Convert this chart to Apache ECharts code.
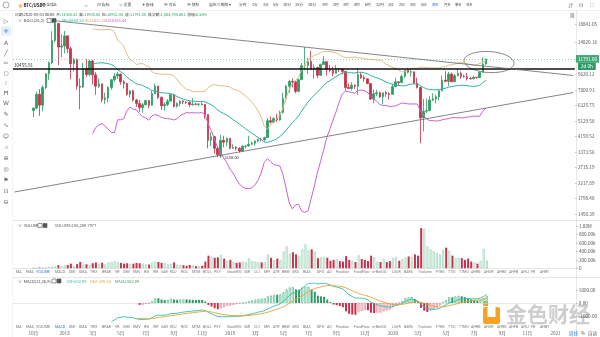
<!DOCTYPE html>
<html>
<head>
<meta charset="utf-8">
<script src="https://cdn.jsdelivr.net/npm/echarts@6/dist/echarts.min.js"></script>
<style>
html,body{margin:0;padding:0;background:#fff;}
#c{width:600px;height:337px;}
</style>
</head>
<body>
<div id="c"></div>
<script>
// ---- weekly BTC/USDT candles, first bar 2017-10-23 ----
const weekStart = '2017-09-11';
const weekTotal = 180;
const dataStart = '2017-10-23';

const opens = [5900,6100,7350,6350,8050,9700,11250,15200,19100,13900,
  14100,16150,13600,11100,11750,8200,8100,10400,9600,11500,9550,8200,8450,6850,7000,8050,8950,9400,9650,8700,
  8500,7350,7700,6800,6500,6150,6380,6750,6350,7400,8200,7050,6300,6400,6700,7300,6250,6500,6700,6620,
  6580,6400,6450,6420,6450,6400,5600,3950,4150,3550,3250,3950,3850,
  4050,3550,3600,3550,3420,3650,3660,3750,3800,3920,4000,3980,4100,5150,5050,5300,5200,5750,6950,8200,
  8750,8700,7650,8950,10800,10850,11450,10250,10550,9500,11000,11400,10300,10150,9750,10400,10350,10000,8050,7950,
  8300,8200,9550,9200,9050,8500,6900,7400,7500,7100,7500,7400,
  7350,8150,8700,8600,9350,10150,9900,9950,8550,8050,5350,5850,5900,6800,6900,7100,7700,8900,8750,9650,
  8700,9450,9750,9350,9300,9100,9050,9250,9200,9900,11065.42];
const highs = [6150,7600,7880,8300,9750,11450,17200,19800,19200,16500,
  17250,16300,14000,12000,11900,9100,11200,11800,11700,11700,9900,9100,8500,7500,8200,9000,9800,9950,9700,8900,
  8550,7750,7800,6900,6850,6550,6750,6800,7700,8500,8250,7150,6600,6900,7400,7400,6600,6800,6800,6700,
  6700,7000,6550,6500,6600,6450,5600,4400,4200,3650,4250,4200,4100,
  4100,3750,3650,3600,3700,3700,4200,3900,3950,4050,4100,4150,5350,5450,5400,5650,5900,7500,8350,8950,
  9100,8800,9100,11200,13880,12000,13200,11000,10650,11100,12300,11450,10900,10650,10900,10450,10400,10050,8500,8650,
  8400,10500,9900,9500,9100,8550,7850,7800,7600,7500,7700,7550,
  8450,9200,8750,9600,10200,10500,10250,9950,9200,8150,6900,6950,7200,7450,7300,7750,9450,10050,9950,9850,
  9700,10400,10000,9600,9800,9300,9450,9300,9900,12100,11900];
const lows = [5400,6000,5500,5850,7900,8900,11000,14800,10900,12100,
  12750,12800,9000,10000,7800,6000,8000,9300,9400,8400,7300,8000,6600,6450,6600,7800,8700,9000,8350,7950,
  7200,7050,6650,6200,5800,5750,6350,6100,6300,7400,6900,5950,5900,6250,6700,6150,6150,6250,6450,6450,
  6200,6300,6400,6250,6350,5300,3550,3650,3300,3150,3200,3600,3650,
  3500,3530,3450,3350,3380,3550,3650,3700,3700,3850,3900,3900,4100,4950,5000,5050,5150,5650,6600,7500,
  8050,7450,7550,8950,10200,9650,10200,9050,9150,9400,11000,9450,9850,9350,9750,9900,9600,7700,7900,7750,
  7900,7300,9050,8700,8400,6800,6500,7150,7000,6450,7100,6850,
  7350,8100,8250,8550,9150,9750,9300,8450,7950,3800,4450,5700,5850,6700,6500,6800,7650,8650,8200,8650,
  8650,9350,9050,9200,8850,8950,9000,9050,9150,9870,10932.44];
const closes = [6100,7350,6350,8050,9700,11250,15200,19100,13900,14100,
  16150,13600,11100,11750,8200,8100,10400,9600,11500,9550,8200,8450,6850,7000,8050,8950,9400,9650,8700,8500,
  7350,7700,6800,6500,6150,6380,6750,6350,7400,8200,7050,6300,6400,6700,7300,6250,6500,6700,6620,6580,
  6400,6450,6420,6450,6400,5600,3950,4150,3550,3250,3950,3850,4050,
  3550,3600,3550,3420,3650,3660,3750,3800,3920,4000,3980,4100,5150,5050,5300,5200,5750,6950,8200,8750,
  8700,7650,8950,10800,10850,11450,10250,10550,9500,11000,11400,10300,10150,9750,10400,10350,10000,8050,7950,8300,
  8200,9550,9200,9050,8500,6900,7400,7500,7100,7500,7400,7350,
  8150,8700,8600,9350,10150,9900,9950,8550,8050,5350,5850,5900,6800,6900,7100,7700,8900,8750,9650,8700,
  9450,9750,9350,9300,9100,9050,9250,9200,9900,11065.42,11791];
// weekly volume, thousands of BTC
const volumesK = [6,8,18,20,25,35,40,45,75,55,
  70,80,110,60,100,150,90,95,85,120,140,110,130,100,140,150,170,150,130,110,
  120,100,110,130,120,115,100,90,140,160,150,130,120,95,110,140,90,85,75,60,
  80,70,50,55,60,160,300,280,250,260,320,230,180,
  200,150,130,140,160,150,240,170,160,150,140,150,330,250,190,230,200,400,520,350,
  380,330,300,450,570,430,450,400,240,260,270,250,180,200,220,170,160,290,200,180,
  150,310,220,200,170,300,260,160,150,220,150,170,
  250,270,180,220,260,280,270,330,300,955,940,520,450,400,360,330,440,490,420,300,
  240,250,240,200,230,160,140,110,180,460,188.2897977];

const priceTicks = [18841.05,14820.16,9620.12,7800.93,6325.75,5129.58,4159.52,3373.56,2735.19,2217.89,1798.48,1458.39];
const volumeTicks = [0,200000,400000,600000,800000,1000000];
const macdTicks = [-1000,0,1000];
const dateTicks = [['2017-10-23','10月'],['2018-01-01','2018'],['2018-03-05','3月'],['2018-05-07','5月'],
  ['2018-07-02','7月'],['2018-09-03','9月'],['2018-11-05','11月'],['2019-01-07','2019'],['2019-03-04','3月'],
  ['2019-05-06','5月'],['2019-07-01','7月'],['2019-09-02','9月'],['2019-11-04','11月'],['2020-01-06','2020'],
  ['2020-03-02','3月'],['2020-05-04','5月'],['2020-07-06','7月'],['2020-09-07','9月'],['2020-11-02','11月'],
  ['2021-01-04','2021']];

const levelPrice = 10455.91;
const resistanceAnchors = [['2017-12-11',19800],['2019-06-24',13880]];
const supportAnchors = [['2017-09-11',1969],['2021-02-15',7528]];
const focusPoint = ['2020-08-10',11355];
const lowMark = ['2018-12-10',3150];

const periodTabs = ['分时','1分','3分','5分','10分','15分','30分','1时','2时','3时','4时','6时','12时','1日','2日','3日','5日','周K','月K','季K','年K'];
const indicatorTabs = ['MA','EMA','VOLUME','MACD','DMI','DMA','TRIX','BRAR','VR','OBV','EMV','RSI','WR','SAR','KDJ','ROC','MTM','BOLL','PSY','StochRSI','SMI','CCI','MFI','ATR','BBW','SKD','BIAS','DPO','AO','Position','FundFlow','w-NetOIL','LSUR','BARS','Tvolume','FTBS','TTSI','TTMU','AHRG','AHUR','AHRO','AHFB','AHIJ','FR','AHBT'];

// ---- layout ----
const periodX = [239,252,263,273,283,295,308,322,333,343,354,365,376,388,399,410,421,432,444,455,466];
const tabX = [16,26,36,55,69,79,90,102,115,123,133,144,153,161,170,181,192,203,214,227,244,254,264,273,282,292,303,317,327,336,354,372,392,404,418,436,448,459,471,484,497,509,521,531,540];
const UP = '#2a9d63', DOWN = '#c9304a';
const CJK = "'Noto Sans CJK SC', 'Noto Sans', sans-serif";

// ---- categories ----
const categories = [];
for (let i = 0; i < weekTotal; i++) {
  categories.push(new Date(Date.UTC(2017, 8, 11) + i * 7 * 864e5).toISOString().slice(0, 10));
}
const offset = categories.indexOf(dataStart);
const n = closes.length;
const L = Math.log;

// ---- indicators ----
function boll(c, p, k) {
  const mb = [], ub = [], lb = [];
  for (let i = 0; i < c.length; i++) {
    if (i < p - 1) { mb.push(null); ub.push(null); lb.push(null); continue; }
    let s = 0; for (let j = i - p + 1; j <= i; j++) s += c[j];
    const m = s / p;
    let v = 0; for (let j = i - p + 1; j <= i; j++) v += (c[j] - m) * (c[j] - m);
    const sd = Math.sqrt(v / p);
    mb.push(m); ub.push(m + k * sd); lb.push(m - k * sd);
  }
  return { mb, ub, lb };
}
// EMA seeded with the simple average of its first p values
function ema(arr, p, from) {
  const a = 2 / (p + 1), out = new Array(arr.length).fill(null);
  let s = 0; for (let j = from; j < from + p; j++) s += arr[j];
  out[from + p - 1] = s / p;
  for (let i = from + p; i < arr.length; i++) out[i] = a * arr[i] + (1 - a) * out[i - 1];
  return out;
}
const bb = boll(closes, 20, 2);
const e12 = ema(closes, 12, 0), e26 = ema(closes, 26, 0);
const dif = e12.map((v, i) => (v == null || e26[i] == null) ? null : v - e26[i]);
const dea = ema(dif, 9, 25);
const hist = dif.map((v, i) => dea[i] == null ? null : 2 * (v - dea[i]));

function place(arr, from, fn) {
  const out = new Array(weekTotal).fill('-');
  for (let i = 0; i < arr.length; i++) if (i >= from && arr[i] != null) out[offset + i] = fn ? fn(arr[i], i) : arr[i];
  return out;
}

const candleData = new Array(weekTotal).fill('-');
for (let i = 0; i < n; i++) candleData[offset + i] = [L(opens[i]), L(closes[i]), L(lows[i]), L(highs[i])];

const volData = new Array(weekTotal).fill('-');
for (let i = 0; i < n; i++) {
  const up = closes[i] >= opens[i];
  volData[offset + i] = {
    value: volumesK[i] * 1000,
    itemStyle: up ? { color: '#fff', borderColor: '#93d3b4', borderWidth: 0.7 } : { color: DOWN, borderColor: DOWN, borderWidth: 0 }
  };
}
const histData = new Array(weekTotal).fill('-');
for (let i = 34; i < n; i++) {
  const h = hist[i], rising = h >= hist[i - 1];
  let st;
  if (h >= 0) st = rising ? { color: '#fff', borderColor: '#4fb889', borderWidth: 0.7 } : { color: '#2f9a66', borderColor: '#2f9a66', borderWidth: 0 };
  else st = rising ? { color: '#fff', borderColor: '#e07a8c', borderWidth: 0.7 } : { color: DOWN, borderColor: DOWN, borderWidth: 0 };
  histData[offset + i] = { value: h, itemStyle: st };
}

function extend(anchors) {
  const i0 = categories.indexOf(anchors[0][0]), i1 = categories.indexOf(anchors[1][0]);
  const s = (L(anchors[1][1]) - L(anchors[0][1])) / (i1 - i0);
  return [{ coord: [i0, L(anchors[0][1])] }, { coord: [weekTotal - 1, L(anchors[0][1]) + s * (weekTotal - 1 - i0)] }];
}

const lastC = closes[n - 1], lastO = opens[n - 1];
const dateLabel = {}; dateTicks.forEach(d => { dateLabel[d[0]] = d[1]; });
const f2 = v => v.toFixed(2);

const priceMin = L(1406), priceMax = L(20007);

const option = {
  animation: false,
  backgroundColor: '#fff',
  textStyle: { fontFamily: CJK },
  grid: [
    { left: 13, right: 24, top: 20, height: 197 },
    { left: 13, right: 24, top: 222, height: 46.3 },
    { left: 13, right: 24, top: 283, height: 40 }
  ],
  xAxis: [0, 1, 2].map(g => ({
    type: 'category', gridIndex: g, data: categories, boundaryGap: true,
    axisLine: { show: g > 0, lineStyle: { color: '#d8d8d8', width: 0.6 } },
    axisTick: { show: false }, splitLine: { show: false },
    axisLabel: g === 2 ? {
      show: true, fontSize: 4.6, color: '#666', margin: 8,
      interval: (i, v) => dateLabel[v] !== undefined,
      formatter: v => dateLabel[v] || ''
    } : { show: false }
  })),
  yAxis: [
    {
      type: 'value', gridIndex: 0, position: 'right', min: priceMin, max: priceMax, scale: true,
      axisLine: { show: false }, splitLine: { show: false },
      axisTick: { show: true, length: 2, lineStyle: { color: '#999', width: 0.5 }, customValues: priceTicks.map(L) },
      axisLabel: {
        fontSize: 4.6, color: '#555', margin: 3, customValues: priceTicks.map(L),
        formatter: v => { let best = priceTicks[0]; priceTicks.forEach(t => { if (Math.abs(L(t) - v) < Math.abs(L(best) - v)) best = t; }); return f2(best); }
      }
    },
    {
      type: 'value', gridIndex: 1, position: 'right', min: 0, max: 1100000,
      axisLine: { show: false }, splitLine: { show: false },
      axisTick: { show: true, length: 2, lineStyle: { color: '#999', width: 0.5 }, customValues: volumeTicks },
      axisLabel: {
        fontSize: 4.6, color: '#555', margin: 3, customValues: volumeTicks,
        formatter: v => v === 0 ? '0' : v >= 1e6 ? (v / 1e6).toFixed(2) + 'M' : (v / 1e3).toFixed(2) + 'k'
      }
    },
    {
      type: 'value', gridIndex: 2, position: 'right', min: -1540, max: 1540,
      axisLine: { show: false }, splitLine: { show: false },
      axisTick: { show: true, length: 2, lineStyle: { color: '#999', width: 0.5 }, customValues: macdTicks },
      axisLabel: { fontSize: 4.6, color: '#555', margin: 3, customValues: macdTicks, formatter: v => f2(v) }
    }
  ],
  series: [
    {
      type: 'candlestick', name: 'BTC/USDT', xAxisIndex: 0, yAxisIndex: 0, data: candleData, barWidth: 2,
      itemStyle: { color: UP, color0: DOWN, borderColor: UP, borderColor0: DOWN, borderWidth: 0.8 },
      markLine: {
        silent: true, symbol: ['none', 'none'], animation: false,
        data: [
          { yAxis: L(levelPrice), lineStyle: { color: '#111', width: 1.5, type: 'solid' },
            label: { show: true, position: 'insideStartTop', formatter: f2(levelPrice), fontSize: 4.6, color: '#333', distance: [1, 1] } },
          { yAxis: L(lastC), lineStyle: { color: '#4caf7a', width: 0.6, type: [1, 2] },
            label: { show: true, position: 'end', formatter: f2(lastC), fontSize: 4.6, color: '#fff', backgroundColor: '#3fa872', padding: [1.5, 2], distance: 1 } },
          extend(resistanceAnchors).map(p => Object.assign(p, { lineStyle: { color: '#666', width: 0.8, type: 'solid' }, label: { show: false } })),
          extend(supportAnchors).map(p => Object.assign(p, { lineStyle: { color: '#666', width: 0.8, type: 'solid' }, label: { show: false } }))
        ]
      },
      markPoint: {
        silent: true, symbol: 'circle', symbolSize: 0.1,
        data: [{ coord: [lowMark[0], L(lowMark[1])], label: { show: true, position: 'right', distance: 2, formatter: '← ' + f2(lowMark[1]), fontSize: 4, color: '#333' } }]
      }
    },
    { type: 'line', name: 'UB', xAxisIndex: 0, yAxisIndex: 0, data: place(bb.ub, 19, v => L(Math.max(v, 1))), showSymbol: false, lineStyle: { color: '#dcbf86', width: 1 } },
    { type: 'line', name: 'MB', xAxisIndex: 0, yAxisIndex: 0, data: place(bb.mb, 19, v => L(v)), showSymbol: false, lineStyle: { color: '#2db3a0', width: 1 } },
    { type: 'line', name: 'LB', xAxisIndex: 0, yAxisIndex: 0, data: place(bb.lb, 19, v => L(Math.max(v, 1))), showSymbol: false, lineStyle: { color: '#cc62cc', width: 1 } },
    {
      type: 'bar', name: 'VOLUME', xAxisIndex: 1, yAxisIndex: 1, data: volData, barWidth: 2,
      markLine: {
        silent: true, symbol: ['none', 'none'],
        data: [{ yAxis: volumesK[n - 1] * 1000, lineStyle: { opacity: 0 },
          label: { show: true, position: 'end', distance: 1, formatter: (volumesK[n - 1]).toFixed(2) + 'k', fontSize: 4.6, color: '#fff', backgroundColor: '#f0a234', padding: [1.5, 2] } }]
      }
    },
    { type: 'bar', name: 'MACD', xAxisIndex: 2, yAxisIndex: 2, data: histData, barWidth: 2 },
    { type: 'line', name: 'DIF', xAxisIndex: 2, yAxisIndex: 2, data: place(dif, 25), showSymbol: false, lineStyle: { color: '#2fc0a4', width: 0.9 } },
    { type: 'line', name: 'DEA', xAxisIndex: 2, yAxisIndex: 2, data: place(dea, 33), showSymbol: false, lineStyle: { color: '#e3a33a', width: 0.9 } }
  ]
};

const chart = echarts.init(document.getElementById('c'), null, { renderer: 'canvas', width: 600, height: 337 });
chart.setOption(option);

// ---- interface chrome ----
const g = [];
const txt = (x, y, text, opt) => g.push({ type: 'text', x, y, silent: true,
  style: Object.assign({ text, fontSize: 4.2, fill: '#444', fontFamily: CJK, verticalAlign: 'middle' }, opt || {}) });
const line = (x1, y1, x2, y2, stroke, w) => g.push({ type: 'line', silent: true, shape: { x1, y1, x2, y2 }, style: { stroke, lineWidth: w || 0.6 } });

// panel separators
line(0, 10.5, 600, 10.5, '#e4e4e4');
line(13, 220.5, 600, 220.5, '#d6d6d6');
line(13, 277.5, 600, 277.5, '#d6d6d6');
line(576.5, 10, 576.5, 337, '#d6d6d6');
line(12.5, 10, 12.5, 337, '#eeeeee');

// top toolbar
g.push({ type: 'circle', silent: true, shape: { cx: 6, cy: 5, r: 3 }, style: { fill: 'none', stroke: '#888', lineWidth: 0.7 } });
txt(18, 5, '★', { fill: '#f0a234', fontSize: 5 });
txt(23.5, 5, 'BTC/USDT', { fill: '#222', fontSize: 4.4, fontWeight: 'bold' });
txt(40, 5, '火币全球站', { fill: '#333', fontSize: 3.3 });
txt(85, 5, '⌕', { fill: '#555', fontSize: 5 });
txt(97, 5, 'ƒx 指标', { fill: '#444', fontSize: 3.8 });
txt(119, 5, '◎ 设置', { fill: '#444', fontSize: 3.8 });
txt(142, 5, '✦ 画线', { fill: '#444', fontSize: 3.8 });
txt(164, 5, '▣ 对比', { fill: '#444', fontSize: 3.8 });
txt(187, 5, '▣ 快照', { fill: '#444', fontSize: 3.8 });
txt(209, 5, '自定义周期 ▾', { fill: '#444', fontSize: 3.8 });
periodTabs.forEach((t, i) => txt(periodX[i], 5, t, { fill: t === '周K' ? '#2f7be0' : '#444', fontSize: 3.8 }));
txt(568, 5, '⇵', { fill: '#666', fontSize: 5 });
txt(579, 5, '⊡', { fill: '#666', fontSize: 5 });
txt(590, 5, '⛶', { fill: '#666', fontSize: 5 });
txt(570, 15, '▦', { fill: '#666', fontSize: 4.5 });

// bar info line
const pct = ((lastC / lastO - 1) * 100).toFixed(2) + '%';
const fs = 3.9;
g.push({ type: 'text', x: 15, y: 14.5, silent: true, style: {
  text: '{k|日期:2020-08-03 00:00}  {k|开:}{v|' + f2(lastO) + '}  {k|高:}{v|' + f2(highs[n - 1]) + '}  {k|低:}{v|' + f2(lows[n - 1]) + '}  {k|收:}{v|' + f2(lastC) + '}  {k|成交额:}{v|1,504,795.661}  {k|涨幅:}{v|' + pct + '}',
  fontSize: fs, fontFamily: CJK, verticalAlign: 'middle',
  rich: { k: { fill: '#444', fontSize: fs, fontFamily: CJK }, v: { fill: UP, fontSize: fs, fontFamily: CJK } } } });

// indicator legends
const icons = (x, y) => {
  g.push({ type: 'rect', silent: true, shape: { x, y: y - 2, width: 4, height: 4 }, style: { fill: '#fff', stroke: '#555', lineWidth: 0.6 } });
  g.push({ type: 'rect', silent: true, shape: { x: x + 5, y: y - 2, width: 4, height: 4 }, style: { fill: '#555', stroke: '#555', lineWidth: 0.6 } });
};
const lf = 4;
txt(18, 20.5, '∨  BOLL(20,2)', { fill: '#444', fontSize: lf });
icons(47, 20.5);
txt(62, 20.5, 'MB:' + f2(bb.mb[n - 1]), { fill: '#2db3a0', fontSize: lf });
txt(83, 20.5, 'UB:' + f2(bb.ub[n - 1]), { fill: '#c9a868', fontSize: lf });
txt(106, 20.5, 'LB:' + f2(bb.lb[n - 1]), { fill: '#cc62cc', fontSize: lf });

txt(18, 225.5, '∨  VOLUME', { fill: '#444', fontSize: lf });
icons(38, 225.5);
txt(55, 225.5, 'VOLUME:' + (volumesK[n - 1] * 1000).toLocaleString('en-US', { minimumFractionDigits: 4, maximumFractionDigits: 4 }), { fill: '#555', fontSize: lf });

txt(18, 281, '∨  MACD(12,26,9)', { fill: '#444', fontSize: lf });
icons(52, 281);
txt(67, 281, 'DIF:' + f2(dif[n - 1]), { fill: '#2fc0a4', fontSize: lf });
txt(90, 281, 'DEA:' + f2(dea[n - 1]), { fill: '#e3a33a', fontSize: lf });
txt(115, 281, 'MACD:' + f2(hist[n - 1]), { fill: '#2f9a66', fontSize: lf });

// indicator tab rows
indicatorTabs.forEach((t, i) => {
  txt(tabX[i], 272.5, t, { fill: t === 'VOLUME' ? '#2f7be0' : '#777', fontSize: 3.6, fontFamily: 'Roboto, sans-serif' });
  txt(tabX[i], 327.5, t, { fill: t === 'MACD' ? '#2f7be0' : '#777', fontSize: 3.6, fontFamily: 'Roboto, sans-serif' });
});
txt(569, 333.5, '周线', { fill: '#2f7be0', fontSize: 4.4 });
txt(581, 333.5, '%', { fill: '#555', fontSize: 4.4 });
txt(588, 333.5, '自动', { fill: '#555', fontSize: 4.4 });

// drawing toolbar
const tools = ['▷', '✛', 'A', '╱', '✂', '○', '⁝', 'Ħ', 'W', '✎', '∿', '☺', '⌕', '⊕', '◎', '⚑', '⊡', '⊖'];
const toolY = [21, 31, 43, 53, 63, 73, 83, 93, 103, 114, 125, 136, 147, 158, 169, 180, 191, 202];
g.push({ type: 'rect', silent: true, shape: { x: 1, y: 26.5, width: 10, height: 9 }, style: { fill: '#e4effa' } });
tools.forEach((t, i) => txt(6, toolY[i], t, { fill: i === 1 ? '#2f7be0' : '#666', fontSize: 6, align: 'center', fontFamily: 'DejaVu Sans, sans-serif' }));

// watermark logo
g.push({ type: 'rect', silent: true, shape: { x: 483, y: 307, width: 17, height: 17, r: 2 }, style: { fill: '#f4a322' } });
g.push({ type: 'rect', silent: true, shape: { x: 487.5, y: 307, width: 8, height: 10 }, style: { fill: '#fff' } });
g.push({ type: 'rect', silent: true, shape: { x: 483, y: 301, width: 5, height: 5 }, style: { fill: '#f4a322' } });
txt(506, 314, '金色财经', { fill: '#cdcdcd', fontSize: 21, fontWeight: 'bold' });

// ellipse and countdown box anchored through the price scale
const fc = chart.convertToPixel({ xAxisIndex: 0, yAxisIndex: 0 }, [focusPoint[0], L(focusPoint[1])]);
g.push({ type: 'ellipse', silent: true, shape: { cx: fc[0], cy: fc[1], rx: 25, ry: 10.5 }, rotation: -0.06, originX: fc[0], originY: fc[1], style: { fill: 'none', stroke: '#555', lineWidth: 0.7 } });
const pc = chart.convertToPixel({ xAxisIndex: 0, yAxisIndex: 0 }, [categories[0], L(lastC)]);
g.push({ type: 'text', silent: true, x: 578, y: pc[1] + 7, style: { text: '2d 0h', fontSize: 4.6, fill: '#fff', backgroundColor: '#2f9a66', padding: [1.5, 3], verticalAlign: 'middle', fontFamily: CJK } });

chart.setOption({ graphic: g });
</script>
</body>
</html>
